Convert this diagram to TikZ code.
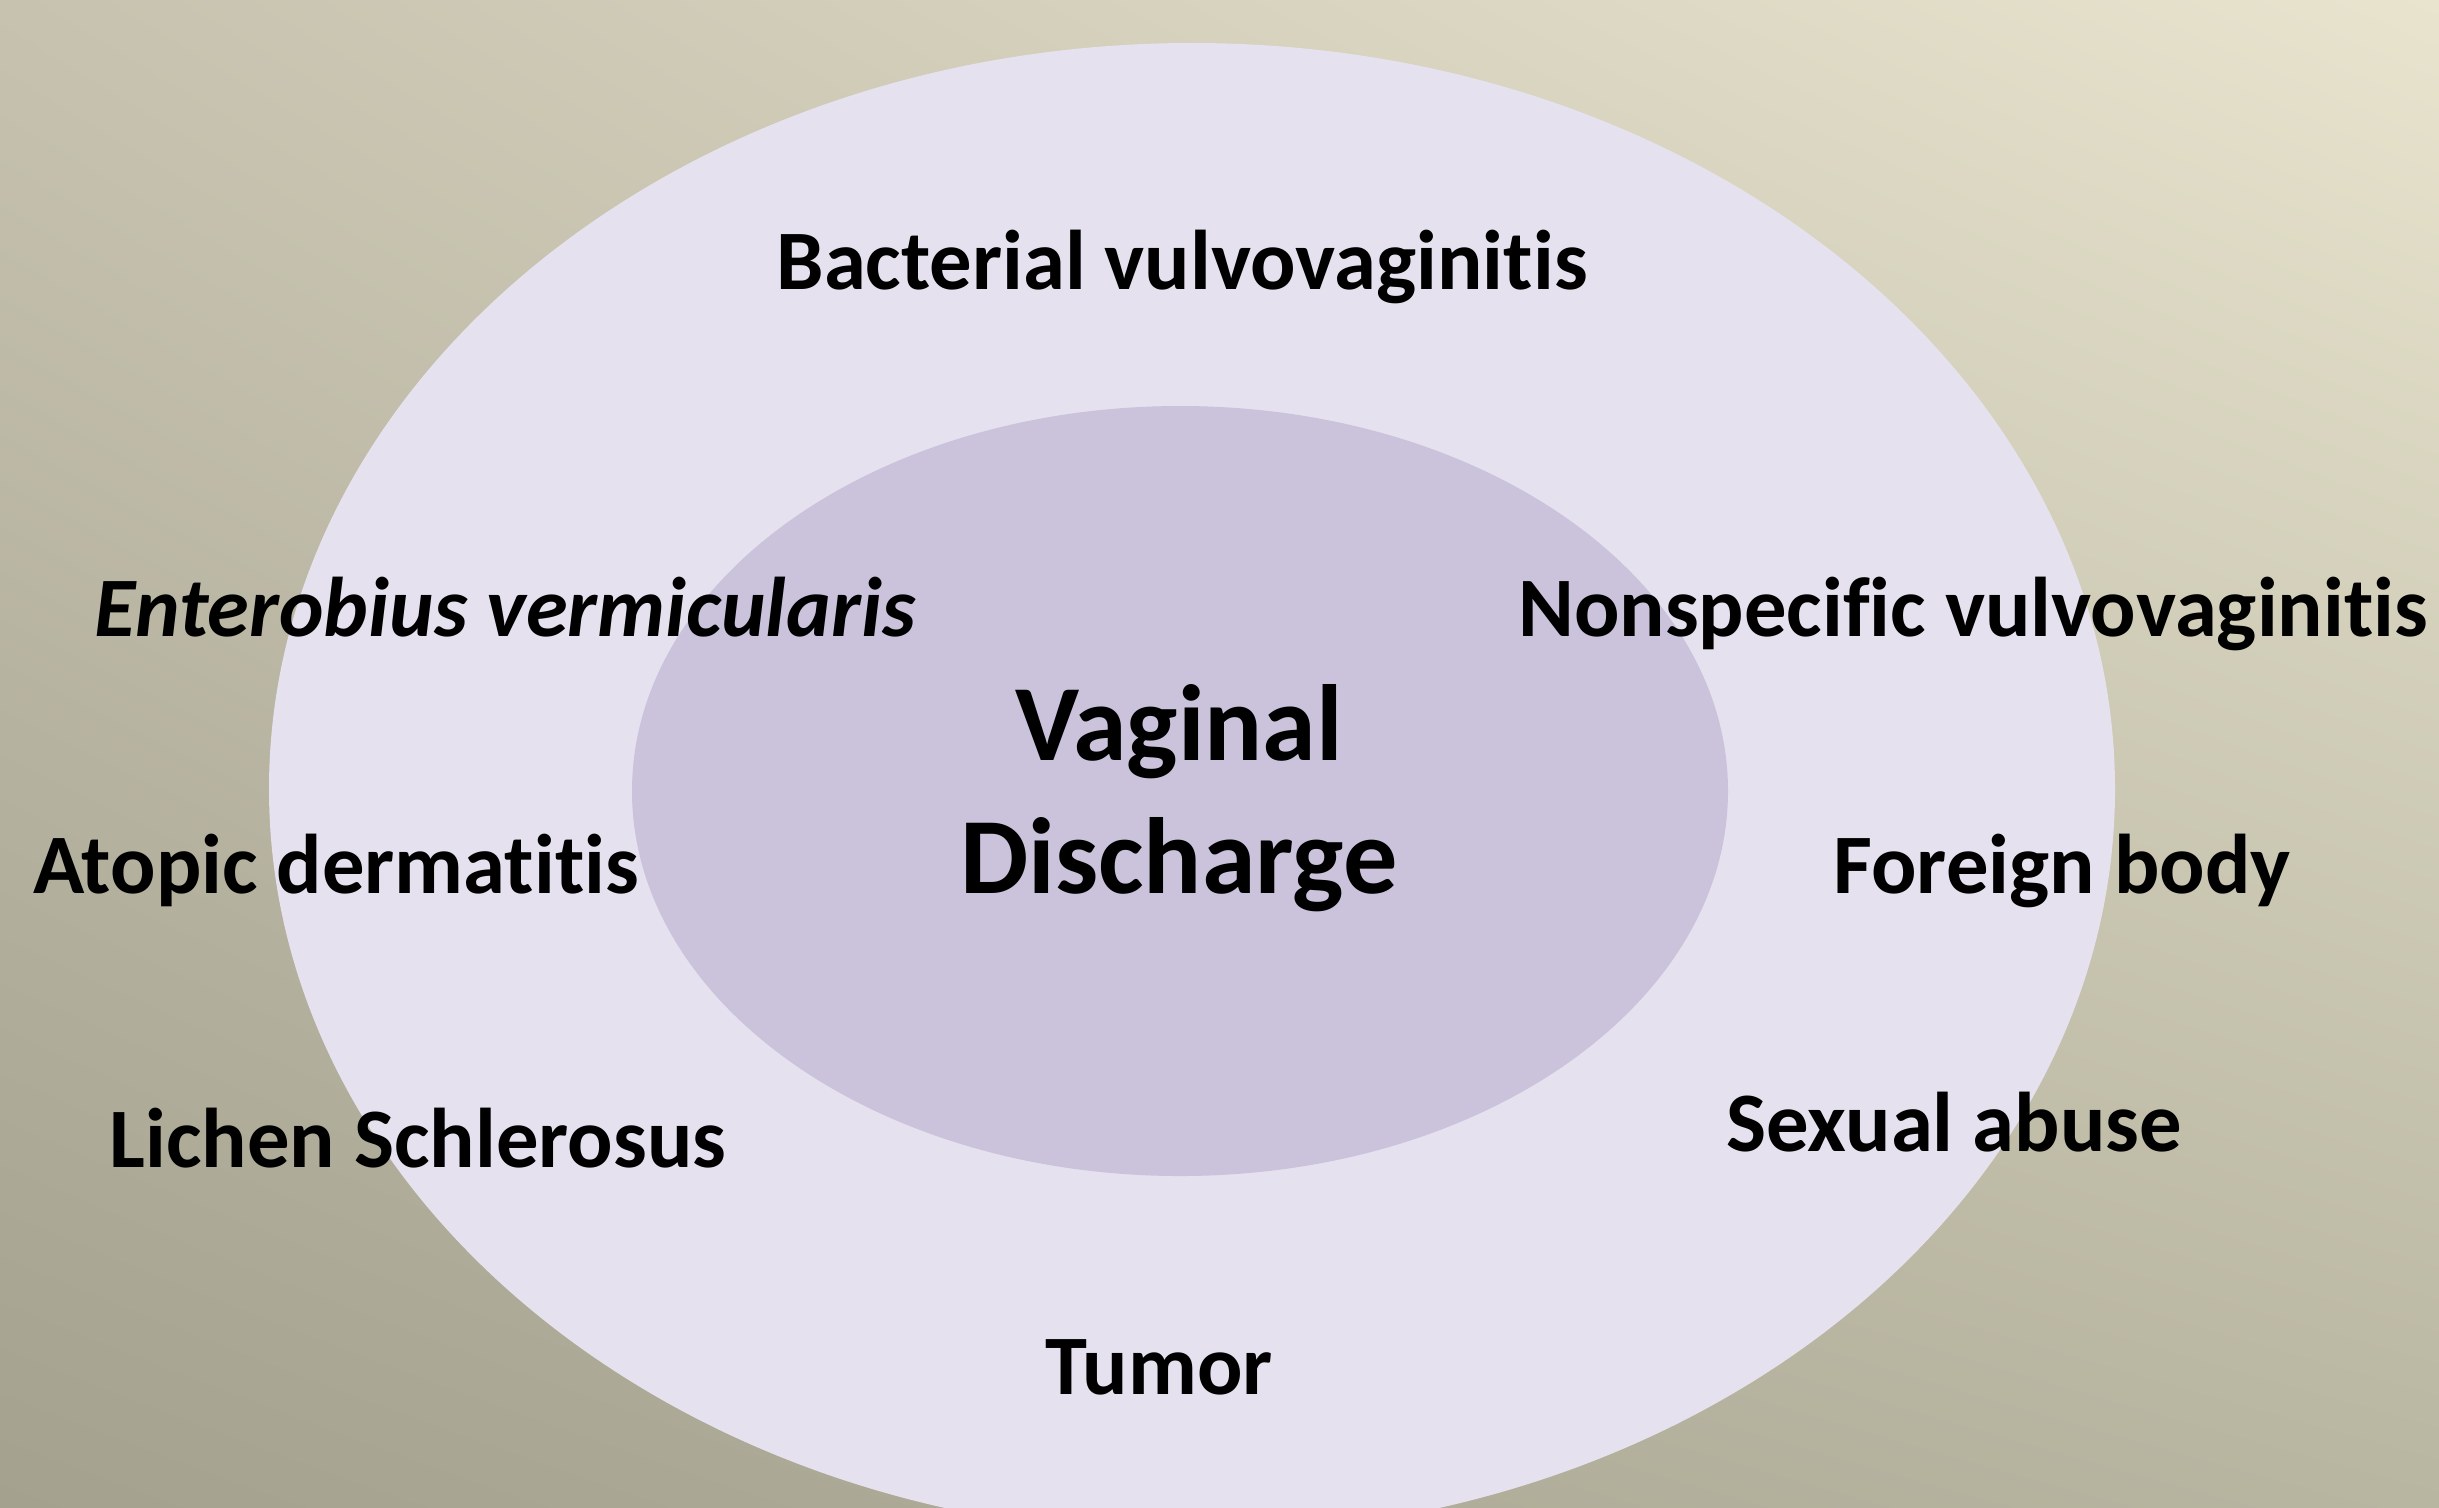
\documentclass[tikz,border=0pt]{standalone}
\usepackage{fontspec}
\setmainfont{Carlito}[Ligatures=NoCommon]
\usetikzlibrary{shadings}
\definecolor{bgTL}{HTML}{C6C2AF}
\definecolor{bgTR}{HTML}{E8E4CE}
\definecolor{bgBL}{HTML}{A4A18F}
\definecolor{bgBR}{HTML}{B8B5A1}
\definecolor{outerfill}{HTML}{E6E1EE}
\definecolor{innerfill}{HTML}{CBC2DC}
\tikzset{
  lbl/.style={font=\fontsize{25.4}{30}\selectfont\bfseries, text=black, anchor=base, inner sep=0pt},
  ilbl/.style={lbl, font=\fontsize{25.4}{30}\selectfont\bfseries\itshape},
  center label/.style={font=\fontsize{32.5}{40}\selectfont\bfseries, text=black, align=center, inner sep=0pt}
}
\begin{document}
\begin{tikzpicture}[x=0.3pt,y=-0.3pt]
\useasboundingbox (0,0) rectangle (2439,1507);
\clip (0,0) rectangle (2439,1507);
\shade[upper left=bgTL, upper right=bgTR, lower left=bgBL, lower right=bgBR] (0,0) rectangle (2439,1507);
\fill[outerfill] (1192,789) ellipse [x radius=923, y radius=746];
\fill[innerfill] (1180,791) ellipse [x radius=548, y radius=385];
\node[lbl] (bact) at (1182,289) {Bacterial vulvovaginitis};
\node[ilbl] (ent) at (505,636) {Enterobius vermicularis};
\node[lbl] (nons) at (1973,636) {Nonspecific vulvovaginitis};
\node[lbl] (atop) at (336,893) {Atopic dermatitis};
\node[lbl] (for) at (2062,893) {Foreign body};
\node[lbl] (lich) at (418,1167) {Lichen Schlerosus};
\node[lbl] (sex) at (1954,1151) {Sexual abuse};
\node[lbl] (tum) at (1159,1394) {Tumor};
\node[center label] (vd) at (1179,798) {Vaginal\\Discharge};
\end{tikzpicture}
\end{document}
